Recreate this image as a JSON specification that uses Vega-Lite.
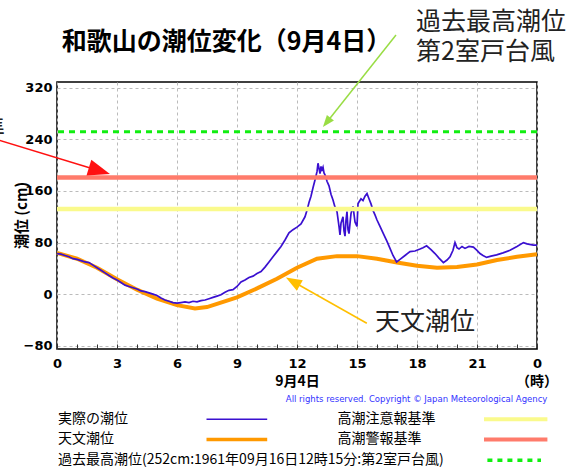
{
  "$schema": "https://vega.github.io/schema/vega-lite/v6.json",
  "width": 480,
  "height": 267,
  "autosize": "none",
  "padding": {"left": 57, "top": 82, "right": 46, "bottom": 119},
  "background": "white",
  "config": {
    "font": "Noto Sans CJK JP",
    "view": {"stroke": "#000000", "strokeWidth": 1.5}
  },
  "datasets": {
    "astronomical": [
      {"hour": 0, "cm": 64}, {"hour": 1, "cm": 55}, {"hour": 2, "cm": 41}, {"hour": 3, "cm": 23},
      {"hour": 4, "cm": 7}, {"hour": 5, "cm": -7}, {"hour": 6, "cm": -17}, {"hour": 6.9, "cm": -22},
      {"hour": 7.5, "cm": -20}, {"hour": 8, "cm": -15}, {"hour": 9, "cm": -5}, {"hour": 10, "cm": 9},
      {"hour": 11, "cm": 24}, {"hour": 12, "cm": 41}, {"hour": 13, "cm": 55}, {"hour": 14, "cm": 59},
      {"hour": 15, "cm": 59}, {"hour": 16, "cm": 55}, {"hour": 17, "cm": 49}, {"hour": 18, "cm": 44},
      {"hour": 19, "cm": 41}, {"hour": 20, "cm": 42}, {"hour": 21, "cm": 46}, {"hour": 22, "cm": 53},
      {"hour": 23, "cm": 58}, {"hour": 24, "cm": 62}
    ],
    "observed": [
      {"hour": 0, "cm": 63}, {"hour": 0.2, "cm": 62}, {"hour": 0.4, "cm": 60}, {"hour": 0.6, "cm": 58},
      {"hour": 0.8, "cm": 55}, {"hour": 1.0, "cm": 54}, {"hour": 1.2, "cm": 52}, {"hour": 1.4, "cm": 50},
      {"hour": 1.6, "cm": 49}, {"hour": 1.8, "cm": 45}, {"hour": 2.0, "cm": 41}, {"hour": 2.2, "cm": 37},
      {"hour": 2.4, "cm": 33}, {"hour": 2.6, "cm": 29}, {"hour": 2.8, "cm": 25}, {"hour": 3.0, "cm": 22},
      {"hour": 3.2, "cm": 18}, {"hour": 3.4, "cm": 14}, {"hour": 3.6, "cm": 12}, {"hour": 3.8, "cm": 10},
      {"hour": 4.0, "cm": 8}, {"hour": 4.2, "cm": 5}, {"hour": 4.4, "cm": 4}, {"hour": 4.6, "cm": 2},
      {"hour": 4.8, "cm": 0}, {"hour": 5.0, "cm": -2}, {"hour": 5.2, "cm": -6}, {"hour": 5.4, "cm": -9},
      {"hour": 5.6, "cm": -11}, {"hour": 5.8, "cm": -13}, {"hour": 6.0, "cm": -14}, {"hour": 6.2, "cm": -13},
      {"hour": 6.4, "cm": -12}, {"hour": 6.6, "cm": -13}, {"hour": 6.8, "cm": -11}, {"hour": 7.0, "cm": -12},
      {"hour": 7.2, "cm": -10}, {"hour": 7.4, "cm": -9}, {"hour": 7.6, "cm": -7}, {"hour": 7.8, "cm": -5},
      {"hour": 8.0, "cm": -3}, {"hour": 8.2, "cm": -1}, {"hour": 8.4, "cm": 3}, {"hour": 8.6, "cm": 6},
      {"hour": 8.8, "cm": 7}, {"hour": 9.0, "cm": 12}, {"hour": 9.2, "cm": 19}, {"hour": 9.4, "cm": 22},
      {"hour": 9.6, "cm": 26}, {"hour": 9.8, "cm": 28}, {"hour": 10.0, "cm": 32}, {"hour": 10.2, "cm": 35},
      {"hour": 10.4, "cm": 42}, {"hour": 10.6, "cm": 50}, {"hour": 10.8, "cm": 58}, {"hour": 11.0, "cm": 66},
      {"hour": 11.2, "cm": 74}, {"hour": 11.4, "cm": 84}, {"hour": 11.6, "cm": 95}, {"hour": 11.8, "cm": 100},
      {"hour": 12.0, "cm": 104}, {"hour": 12.2, "cm": 109}, {"hour": 12.4, "cm": 120}, {"hour": 12.5, "cm": 130},
      {"hour": 12.6, "cm": 142}, {"hour": 12.7, "cm": 152}, {"hour": 12.8, "cm": 165}, {"hour": 12.9, "cm": 177},
      {"hour": 13.0, "cm": 190}, {"hour": 13.05, "cm": 203}, {"hour": 13.1, "cm": 195}, {"hour": 13.15, "cm": 187},
      {"hour": 13.2, "cm": 198}, {"hour": 13.25, "cm": 193}, {"hour": 13.3, "cm": 197}, {"hour": 13.35, "cm": 188},
      {"hour": 13.4, "cm": 185}, {"hour": 13.5, "cm": 175}, {"hour": 13.6, "cm": 168}, {"hour": 13.7, "cm": 155},
      {"hour": 13.8, "cm": 146}, {"hour": 13.9, "cm": 135}, {"hour": 14.0, "cm": 128}, {"hour": 14.1, "cm": 105},
      {"hour": 14.15, "cm": 92}, {"hour": 14.2, "cm": 110}, {"hour": 14.3, "cm": 120}, {"hour": 14.35, "cm": 98},
      {"hour": 14.4, "cm": 90}, {"hour": 14.45, "cm": 115}, {"hour": 14.5, "cm": 128}, {"hour": 14.55, "cm": 100},
      {"hour": 14.6, "cm": 94}, {"hour": 14.7, "cm": 125}, {"hour": 14.8, "cm": 136}, {"hour": 14.9, "cm": 112},
      {"hour": 15.0, "cm": 105}, {"hour": 15.05, "cm": 140}, {"hour": 15.1, "cm": 143}, {"hour": 15.2, "cm": 148},
      {"hour": 15.3, "cm": 145}, {"hour": 15.4, "cm": 152}, {"hour": 15.5, "cm": 156}, {"hour": 15.6, "cm": 148},
      {"hour": 15.7, "cm": 140}, {"hour": 15.8, "cm": 130}, {"hour": 15.9, "cm": 123}, {"hour": 16.0, "cm": 115},
      {"hour": 16.15, "cm": 105}, {"hour": 16.3, "cm": 95}, {"hour": 16.5, "cm": 82}, {"hour": 16.65, "cm": 71},
      {"hour": 16.8, "cm": 60}, {"hour": 16.98, "cm": 50}, {"hour": 17.15, "cm": 54}, {"hour": 17.4, "cm": 60},
      {"hour": 17.65, "cm": 66}, {"hour": 17.9, "cm": 67}, {"hour": 18.15, "cm": 70}, {"hour": 18.3, "cm": 72},
      {"hour": 18.48, "cm": 75}, {"hour": 18.7, "cm": 69}, {"hour": 18.9, "cm": 63}, {"hour": 19.1, "cm": 56},
      {"hour": 19.32, "cm": 49}, {"hour": 19.5, "cm": 53}, {"hour": 19.65, "cm": 58}, {"hour": 19.8, "cm": 68},
      {"hour": 19.9, "cm": 80}, {"hour": 20.0, "cm": 72}, {"hour": 20.1, "cm": 70}, {"hour": 20.25, "cm": 74},
      {"hour": 20.4, "cm": 71}, {"hour": 20.6, "cm": 74}, {"hour": 20.82, "cm": 73}, {"hour": 21.0, "cm": 68},
      {"hour": 21.15, "cm": 63}, {"hour": 21.3, "cm": 60}, {"hour": 21.48, "cm": 57}, {"hour": 21.7, "cm": 59},
      {"hour": 21.98, "cm": 61}, {"hour": 22.3, "cm": 64}, {"hour": 22.65, "cm": 68}, {"hour": 23.0, "cm": 74},
      {"hour": 23.32, "cm": 80}, {"hour": 23.5, "cm": 78}, {"hour": 23.82, "cm": 76}, {"hour": 24.0, "cm": 76}
    ],
    "levels": [
      {"level": "高潮注意報基準", "cm": 132},
      {"level": "高潮警報基準", "cm": 181},
      {"level": "過去最高潮位", "cm": 252}
    ],
    "arrows": [
      {"target": "過去最高潮位", "hour": 16.95, "cm": 402, "hour2": 13.53, "cm2": 268.2},
      {"target": "高潮警報基準", "hour": -3.0, "cm": 239.6, "hour2": 1.99, "cm2": 192.6},
      {"target": "天文潮位", "hour": 15.49, "cm": -45.1, "hour2": 11.88, "cm2": 18.1}
    ],
    "callouts": [
      {"text": "過去最高潮位", "hour": 17.95, "cm": 422.6},
      {"text": "第2室戸台風", "hour": 17.95, "cm": 376},
      {"text": "天文潮位", "hour": 15.9, "cm": -42.6}
    ],
    "offscreen": [
      {"text": "高潮警報基準", "hour": -2.6, "cm": 256}
    ],
    "title": [
      {"text": "和歌山の潮位変化（9月4日）", "hour": 0.24, "cm": 391.5}
    ],
    "unit": [
      {"text": "（時）", "hour": 24, "cm": -135.5}
    ],
    "credit": [
      {"text": "All rights reserved. Copyright © Japan Meteorological Agency", "hour": 24.52, "cm": -163.3}
    ],
    "legend": [
      {"item": "実際の潮位", "hour": 0.05, "cm": -194, "from": 7.475, "to": 10.51},
      {"item": "天文潮位", "hour": 0.05, "cm": -225.2, "from": 7.475, "to": 10.51},
      {"item": "過去最高潮位(252cm:1961年09月16日12時15分:第2室戸台風)", "hour": 0.05, "cm": -257.4, "from": 21.52, "to": 24.2},
      {"item": "高潮注意報基準", "hour": 14.03, "cm": -194, "from": 21.35, "to": 24.52},
      {"item": "高潮警報基準", "hour": 14.03, "cm": -225.2, "from": 21.35, "to": 24.52}
    ]
  },
  "layer": [
    {
      "data": {"name": "astronomical"},
      "mark": {"type": "line", "color": "#ff9900", "strokeWidth": 4},
      "encoding": {
        "x": {
          "field": "hour", "type": "quantitative",
          "scale": {"domain": [0, 24], "nice": false, "zero": false},
          "axis": {
            "values": [0,1,2,3,4,5,6,7,8,9,10,11,12,13,14,15,16,17,18,19,20,21,22,23,24],
            "tickCount": 40,
            "labelExpr": "datum.value % 3 === 0 ? '' + (datum.value % 24) : ''",
            "labelOverlap": false,
            "labelFont": "DejaVu Sans", "labelFontWeight": "bold", "labelFontSize": 13, "labelColor": "#000000",
            "labelBaseline": "middle", "labelPadding": 19.5, "labelFlush": false,
            "domain": false,
            "tickSize": -5, "tickColor": "#333333", "tickWidth": 1, "tickOpacity": 1,
            "grid": true, "gridDash": [3, 3], "gridColor": "#bbbbbb", "gridWidth": 1,
            "gridOpacity": {"condition": {"test": "datum.value % 3 === 0", "value": 1}, "value": 0},
            "title": "9月4日", "titleFont": "Noto Sans CJK JP", "titleFontWeight": "bold", "titleFontSize": 14,
            "titleColor": "#000000", "titleX": 240, "titleY": 32, "titleBaseline": "middle", "titleAlign": "center"
          }
        },
        "y": {
          "field": "cm", "type": "quantitative",
          "scale": {"domain": [-85, 329], "nice": false, "zero": false},
          "axis": {
            "values": [-80, 0, 80, 160, 240, 320],
            "tickCount": 20,
            "labelOverlap": false,
            "labelFont": "DejaVu Sans", "labelFontWeight": "bold", "labelFontSize": 13, "labelColor": "#000000",
            "labelPadding": 5, "ticks": false, "domain": false,
            "grid": true, "gridDash": [3, 3], "gridColor": "#bbbbbb", "gridWidth": 1,
            "title": "潮位 (cm)", "titleFont": "Noto Sans CJK JP", "titleFontWeight": "bold", "titleFontSize": 15,
            "titleColor": "#000000", "titleX": -36, "titleY": 133, "titleAngle": 270,
            "titleAlign": "center", "titleBaseline": "middle"
          }
        }
      }
    },
    {
      "data": {"name": "observed"},
      "mark": {"type": "line", "color": "#3a10d0", "strokeWidth": 1.7},
      "encoding": {
        "x": {"field": "hour", "type": "quantitative"},
        "y": {"field": "cm", "type": "quantitative"}
      }
    },
    {
      "data": {"name": "levels"},
      "transform": [{"filter": "datum.level === '高潮注意報基準'"}],
      "mark": {"type": "rule", "color": "#fafa8c", "strokeWidth": 4.5},
      "encoding": {"y": {"field": "cm", "type": "quantitative"}}
    },
    {
      "data": {"name": "levels"},
      "transform": [{"filter": "datum.level === '高潮警報基準'"}],
      "mark": {"type": "rule", "color": "#ff7b6b", "strokeWidth": 4.5},
      "encoding": {"y": {"field": "cm", "type": "quantitative"}}
    },
    {
      "data": {"name": "levels"},
      "transform": [{"filter": "datum.level === '過去最高潮位'"}],
      "mark": {"type": "rule", "color": "#11ee11", "strokeWidth": 3, "strokeDash": [6, 5]},
      "encoding": {"y": {"field": "cm", "type": "quantitative"}}
    },
    {
      "data": {"name": "arrows"},
      "transform": [{"filter": "datum.target === '過去最高潮位'"}],
      "layer": [
        {
          "mark": {"type": "rule", "color": "#99dd44", "strokeWidth": 1.5},
          "encoding": {
            "x": {"field": "hour", "type": "quantitative"},
            "y": {"field": "cm", "type": "quantitative"},
            "x2": {"field": "hour2"}, "y2": {"field": "cm2"}
          }
        },
        {
          "mark": {"type": "point", "shape": "M0,-1L0.6,0.6L-0.6,0.6Z", "filled": true, "color": "#99dd44", "opacity": 1, "size": 225, "angle": 218.7},
          "encoding": {
            "x": {"field": "hour2", "type": "quantitative"},
            "y": {"field": "cm2", "type": "quantitative"}
          }
        }
      ]
    },
    {
      "data": {"name": "arrows"},
      "transform": [{"filter": "datum.target === '高潮警報基準'"}],
      "layer": [
        {
          "mark": {"type": "rule", "color": "#ff1111", "strokeWidth": 1.5},
          "encoding": {
            "x": {"field": "hour", "type": "quantitative"},
            "y": {"field": "cm", "type": "quantitative"},
            "x2": {"field": "hour2"}, "y2": {"field": "cm2"}
          }
        },
        {
          "mark": {"type": "point", "shape": "M0,-1L0.6,0.6L-0.6,0.6Z", "filled": true, "color": "#ff1111", "opacity": 1, "size": 756, "angle": 106.9},
          "encoding": {
            "x": {"field": "hour2", "type": "quantitative"},
            "y": {"field": "cm2", "type": "quantitative"}
          }
        }
      ]
    },
    {
      "data": {"name": "arrows"},
      "transform": [{"filter": "datum.target === '天文潮位'"}],
      "layer": [
        {
          "mark": {"type": "rule", "color": "#ffbf00", "strokeWidth": 1.5},
          "encoding": {
            "x": {"field": "hour", "type": "quantitative"},
            "y": {"field": "cm", "type": "quantitative"},
            "x2": {"field": "hour2"}, "y2": {"field": "cm2"}
          }
        },
        {
          "mark": {"type": "point", "shape": "M0,-1L0.6,0.6L-0.6,0.6Z", "filled": true, "color": "#ffbf00", "opacity": 1, "size": 400, "angle": 299.7},
          "encoding": {
            "x": {"field": "hour2", "type": "quantitative"},
            "y": {"field": "cm2", "type": "quantitative"}
          }
        }
      ]
    },
    {
      "data": {"name": "callouts"},
      "mark": {"type": "text", "font": "Noto Sans CJK JP", "fontSize": 25, "color": "#222222", "align": "left", "baseline": "middle"},
      "encoding": {
        "x": {"field": "hour", "type": "quantitative"},
        "y": {"field": "cm", "type": "quantitative"},
        "text": {"field": "text"}
      }
    },
    {
      "data": {"name": "offscreen"},
      "mark": {"type": "text", "font": "Noto Sans CJK JP", "fontSize": 25, "color": "#222222", "align": "right", "baseline": "middle"},
      "encoding": {
        "x": {"field": "hour", "type": "quantitative"},
        "y": {"field": "cm", "type": "quantitative"},
        "text": {"field": "text"}
      }
    },
    {
      "data": {"name": "title"},
      "mark": {"type": "text", "font": "Noto Sans CJK JP", "fontSize": 25, "fontWeight": "bold", "color": "#000000", "align": "left", "baseline": "middle"},
      "encoding": {
        "x": {"field": "hour", "type": "quantitative"},
        "y": {"field": "cm", "type": "quantitative"},
        "text": {"field": "text"}
      }
    },
    {
      "data": {"name": "unit"},
      "mark": {"type": "text", "font": "Noto Sans CJK JP", "fontSize": 14, "fontWeight": "bold", "color": "#000000", "align": "center", "baseline": "middle"},
      "encoding": {
        "x": {"field": "hour", "type": "quantitative"},
        "y": {"field": "cm", "type": "quantitative"},
        "text": {"field": "text"}
      }
    },
    {
      "data": {"name": "credit"},
      "mark": {"type": "text", "font": "DejaVu Sans", "fontSize": 8.5, "color": "#3333ff", "align": "right", "baseline": "middle"},
      "encoding": {
        "x": {"field": "hour", "type": "quantitative"},
        "y": {"field": "cm", "type": "quantitative"},
        "text": {"field": "text"}
      }
    },
    {
      "data": {"name": "legend"},
      "mark": {"type": "text", "font": "Noto Sans CJK JP", "fontSize": 14, "color": "#000000", "align": "left", "baseline": "middle"},
      "encoding": {
        "x": {"field": "hour", "type": "quantitative"},
        "y": {"field": "cm", "type": "quantitative"},
        "text": {"field": "item"}
      }
    },
    {
      "data": {"name": "legend"},
      "transform": [{"filter": "datum.item === '実際の潮位'"}],
      "mark": {"type": "rule", "color": "#3a10d0", "strokeWidth": 1.5},
      "encoding": {
        "x": {"field": "from", "type": "quantitative"},
        "x2": {"field": "to"},
        "y": {"field": "cm", "type": "quantitative"}
      }
    },
    {
      "data": {"name": "legend"},
      "transform": [{"filter": "datum.item === '天文潮位'"}],
      "mark": {"type": "rule", "color": "#ff9900", "strokeWidth": 3.5},
      "encoding": {
        "x": {"field": "from", "type": "quantitative"},
        "x2": {"field": "to"},
        "y": {"field": "cm", "type": "quantitative"}
      }
    },
    {
      "data": {"name": "legend"},
      "transform": [{"filter": "datum.item === '高潮注意報基準'"}],
      "mark": {"type": "rule", "color": "#fafa8c", "strokeWidth": 4},
      "encoding": {
        "x": {"field": "from", "type": "quantitative"},
        "x2": {"field": "to"},
        "y": {"field": "cm", "type": "quantitative"}
      }
    },
    {
      "data": {"name": "legend"},
      "transform": [{"filter": "datum.item === '高潮警報基準'"}],
      "mark": {"type": "rule", "color": "#ff7b6b", "strokeWidth": 4},
      "encoding": {
        "x": {"field": "from", "type": "quantitative"},
        "x2": {"field": "to"},
        "y": {"field": "cm", "type": "quantitative"}
      }
    },
    {
      "data": {"name": "legend"},
      "transform": [{"filter": "indexof(datum.item, '過去最高潮位') === 0"}],
      "mark": {"type": "rule", "color": "#11ee11", "strokeWidth": 3.5, "strokeDash": [5, 5]},
      "encoding": {
        "x": {"field": "from", "type": "quantitative"},
        "x2": {"field": "to"},
        "y": {"field": "cm", "type": "quantitative"}
      }
    }
  ]
}
